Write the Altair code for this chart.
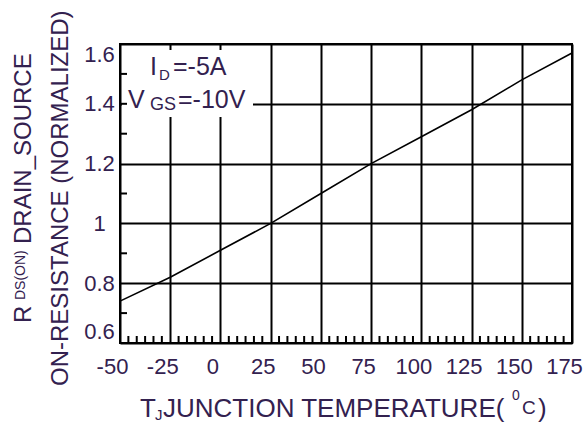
import altair as alt
import pandas as pd

# ---- data ----
temp_c = [-50, -25, 0, 25, 50, 75, 100, 125, 150, 175]
rds_norm = [0.74, 0.82, 0.91, 1.00, 1.10, 1.20, 1.29, 1.38, 1.48, 1.57]
x_ticks = [-50, -25, 0, 25, 50, 75, 100, 125, 150, 175]
y_ticks = [0.6, 0.8, 1.0, 1.2, 1.4, 1.6]
left_minor = [0.7, 0.9, 1.1, 1.3, 1.4, 1.5]
bottom_minor = [round(a + 25 * k / 6, 3) for a in x_ticks[:-1] for k in range(1, 6)]

FONT = "Liberation Sans"
TXT = "#33214f"
W, H = 452, 299

df_line = pd.DataFrame({"t": temp_c, "r": rds_norm})
dummy = pd.DataFrame({"a": [0]})

xs = alt.Scale(domain=[-50, 175], nice=False, zero=False)
ys = alt.Scale(domain=[0.6, 1.6], nice=False, zero=False)

line = alt.Chart(df_line).mark_line(color="black", strokeWidth=1.6).encode(
    x=alt.X("t:Q", scale=xs,
            axis=alt.Axis(values=x_ticks, title=None, grid=True, labelOffset=-8,
                          labelPadding=13, labelFlush=False,
                          labelExpr="datum.value + ''")),
    y=alt.Y("r:Q", scale=ys,
            axis=alt.Axis(values=y_ticks, title=None, grid=True, labelAlign="center",
                          labelPadding=21, labelFlush=True,
                          labelExpr="datum.value + ''")),
)

mask = alt.Chart(dummy).mark_rect(color="white").encode(
    x=alt.value(2), x2=alt.value(133), y=alt.value(6), y2=alt.value(73)
)

left_ticks = alt.Chart(pd.DataFrame({"v": left_minor})).mark_rule(
    color="black", strokeWidth=2
).encode(y=alt.Y("v:Q", scale=ys), x=alt.value(0), x2=alt.value(7))

bottom_ticks = alt.Chart(pd.DataFrame({"w": bottom_minor})).mark_rule(
    color="black", strokeWidth=2
).encode(x=alt.X("w:Q", scale=xs), y=alt.value(H), y2=alt.value(H - 7))


def txt(s, x, y, size, angle=0):
    return alt.Chart(dummy).mark_text(
        text=s, fontSize=size, align="left", baseline="alphabetic",
        angle=angle, font=FONT, color=TXT
    ).encode(x=alt.value(x), y=alt.value(y))


texts = [
    # annotation
    txt("I", 30, 31, 25), txt("D", 39, 36, 15), txt("=-5A", 53, 31, 25),
    txt("V", 8, 64, 25), txt("GS", 30, 66, 18), txt("=-10V", 58, 64, 25),
    # x title
    txt("T", 20, 373, 26), txt("J", 35, 376, 15),
    txt("JUNCTION TEMPERATURE(", 43, 373, 26),
    txt("0", 392, 356, 14), txt("C", 402, 370, 19), txt(")", 418, 373, 26),
    # y title
    txt("R", -89, 279, 24, 270), txt("DS(ON)", -95, 256, 14, 270),
    txt("DRAIN_SOURCE", -89, 200, 24, 270),
    txt("ON-RESISTANCE (NORMALIZED)", -52, 342, 24, 270),
]

chart = alt.layer(line, mask, left_ticks, bottom_ticks, *texts).properties(
    width=W, height=H, background="white",
    padding={"left": 120, "top": 44, "right": 11, "bottom": 81},
    autosize=alt.AutoSizeParams(type="none"),
).configure_axis(
    gridColor="black", gridWidth=2, gridOpacity=1, domain=False, ticks=False,
    tickSize=0, labelFont=FONT, labelFontSize=22, labelColor=TXT,
).configure_view(
    stroke="black", strokeWidth=2
)

chart.save("out.html", embed_options={"renderer": "svg", "actions": False})
